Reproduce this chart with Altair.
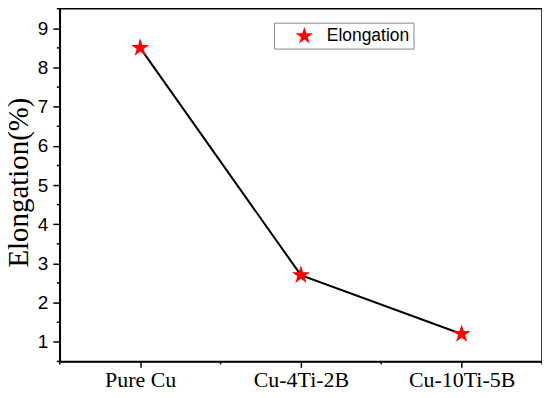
import altair as alt
import pandas as pd

categories = ["Pure Cu", "Cu-4Ti-2B", "Cu-10Ti-5B"]
positions = [1, 2, 3]
elongation = [8.5, 2.7, 1.2]
series = ["Elongation", "Elongation", "Elongation"]
x_minor = [0.5, 1.5, 2.5, 3.5]
y_minor = [0.5, 1.5, 2.5, 3.5, 4.5, 5.5, 6.5, 7.5, 8.5, 9.5]

STAR = ("M0,-1L0.2245,-0.309L0.9511,-0.309L0.3633,0.118L0.5878,0.809L0,0.382"
        "L-0.5878,0.809L-0.3633,0.118L-0.9511,-0.309L-0.2245,-0.309Z")

H = 354
df = pd.DataFrame({"pos": positions, "name": categories, "value": elongation, "series": series})
dfx = pd.DataFrame({"pos": x_minor})
dfy = pd.DataFrame({"value": y_minor})

label_expr = ("datum.value == 1 ? '%s' : datum.value == 2 ? '%s' : '%s'"
              % (categories[0], categories[1], categories[2]))

x_axis = alt.Axis(
    values=[1, 2, 3],
    labelExpr=label_expr,
    title=None, grid=False, domainColor="black", domainWidth=1.5,
    tickColor="black", tickWidth=1.5, tickSize=6,
    labelFont="Liberation Serif", labelFontSize=22, labelColor="black", labelPadding=2,
    labelOverlap=False, labelFlush=False, orient="bottom",
)
y_axis = alt.Axis(
    values=[1, 2, 3, 4, 5, 6, 7, 8, 9],
    title="Elongation(%)", titleFont="Liberation Serif", titleFontSize=29,
    titleFontWeight="normal", titleColor="black",
    titleX=-32, titleY=H / 2 - 3, titleBaseline="alphabetic", titleAngle=270,
    grid=False, domainColor="black", domainWidth=1.5,
    tickColor="black", tickWidth=1.5, tickSize=7,
    labelFont="Liberation Sans", labelFontSize=19, labelColor="black", labelPadding=5,
    labelOverlap=False, labelFlush=False, orient="left",
)

xs = alt.Scale(domain=[0.5, 3.5], nice=False, zero=False)
ys = alt.Scale(domain=[0.5, 9.5], nice=False, zero=False)
x = alt.X("pos:Q", scale=xs, axis=x_axis)
y = alt.Y("value:Q", scale=ys, axis=y_axis)

line = alt.Chart(df).mark_line(color="black", strokeWidth=2).encode(x=x, y=y)
pts = alt.Chart(df).mark_point(shape=STAR, filled=True, size=370, opacity=1).encode(
    x=x, y=y,
    color=alt.Color("series:N", scale=alt.Scale(domain=["Elongation"], range=["#ff0000"]),
                    legend=alt.Legend(
                        title=None, orient="none", legendX=215, legendY=14,
                        symbolType=STAR, symbolSize=340, symbolStrokeWidth=0,
                        labelFont="Liberation Sans", labelFontSize=17.5, labelColor="black",
                        strokeColor="#888888", fillColor="white", padding=4,
                        symbolOffset=17, labelOffset=13, cornerRadius=0,
                    )),
)
xminor = alt.Chart(dfx).mark_rule(color="black", strokeWidth=1.5, clip=False).encode(
    x=x, y=alt.value(H), y2=alt.value(H + 3))
yminor = alt.Chart(dfy).mark_rule(color="black", strokeWidth=1.5, clip=False).encode(
    y=y, x=alt.value(-3), x2=alt.value(0))

chart = alt.layer(line, pts, xminor, yminor).properties(
    width=484, height=H,
    autosize=alt.AutoSizeParams(type="none"),
    padding={"left": 52, "top": 0, "right": 0, "bottom": 30},
    background="white",
).configure_view(stroke="black", strokeWidth=1.5)

chart.save("out.html", embed_options={"renderer": "svg", "actions": False})
